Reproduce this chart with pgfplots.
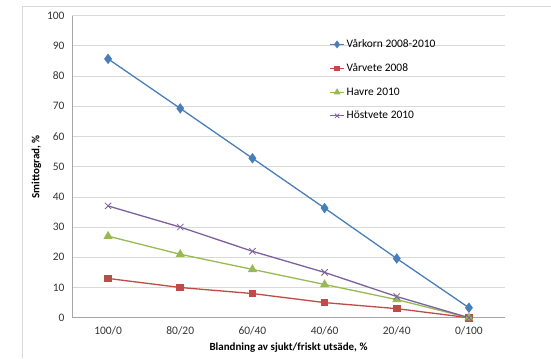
\documentclass[border=0pt]{standalone}
\usepackage{fontspec}
\setmainfont{Carlito}
\usepackage{pgfplots}
\pgfplotsset{compat=1.18}

\definecolor{cblue}{HTML}{4A7EBB}
\definecolor{cred}{HTML}{BE4B48}
\definecolor{cgreen}{HTML}{98B954}
\definecolor{cpurple}{HTML}{7D60A0}
\definecolor{gridgray}{HTML}{D9D9D9}
\definecolor{axisgray}{HTML}{A6A6A6}

\begin{document}
\begin{tikzpicture}[x=1bp,y=1bp]
\path[use as bounding box] (0,0) rectangle (551,358);
\draw[gridgray, line width=0.8bp] (22,0) -- (22,352) -- (551,352);
\begin{axis}[
  at={(72bp,40.3bp)}, anchor=south west,
  scale only axis, width=433bp, height=302bp,
  xmin=-0.5, xmax=5.5, ymin=0, ymax=100,
  xtick={0,1,2,3,4,5},
  xticklabels={100/0,80/20,60/40,40/60,20/40,0/100},
  minor xtick={-0.5,0.5,1.5,2.5,3.5,4.5,5.5},
  ytick={0,10,...,100},
  ymajorgrids, major grid style={gridgray, line width=0.8bp},
  axis x line*=bottom, axis y line*=left,
  axis line style={axisgray, line width=0.8bp, -},
  major tick length=0pt,
  ytick style={draw=none},
  xtick style={draw=none},
  minor tick length=4bp,
  minor x tick style={axisgray, line width=0.8bp},
  tick label style={font=\fontsize{11.5}{13}\selectfont, text=black!80},
  /pgf/number format/assume math mode=true,
  yticklabel style={xshift=-4bp},
  xticklabel style={yshift=-5bp},
  xlabel={\textbf{Blandning av sjukt/friskt utsäde, \%}},
  ylabel={\textbf{Smittograd, \%}},
  label style={font=\fontsize{11}{13}\selectfont},
  xlabel style={yshift=-1bp},
  ylabel style={yshift=-1bp},
  legend style={at={(rel axis cs:0.594,0.928)}, anchor=north west,
    draw=none, fill=none, font=\fontsize{11.5}{13}\selectfont,
    row sep=10.5bp, inner sep=0pt,
    /tikz/every even column/.append style={column sep=1bp}},
  legend cell align=left,
  legend image code/.code={
    \draw[mark repeat=2,mark phase=2,every mark/.append style={scale=0.7}]
      plot coordinates {(0bp,0bp) (7bp,0bp) (14bp,0bp)};},
  every axis plot/.append style={line width=1.3bp},
  clip=false,
]
\addplot[cblue, mark=diamond*, mark size=4.2bp, mark options={fill=cblue}]
  coordinates {(0,85.7) (1,69.3) (2,52.8) (3,36.3) (4,19.6) (5,3.3)};
\addlegendentry{Vårkorn 2008-2010}
\addplot[cred, mark=square*, mark size=3.2bp, mark options={fill=cred}]
  coordinates {(0,13) (1,10) (2,8) (3,5) (4,3) (5,0)};
\addlegendentry{Vårvete 2008}
\addplot[cgreen, mark=triangle*, mark size=4bp, mark options={fill=cgreen}]
  coordinates {(0,27) (1,21) (2,16) (3,11) (4,6) (5,0)};
\addlegendentry{Havre 2010}
\addplot[cpurple, mark=x, mark size=4.5bp, mark options={line width=0.8bp}]
  coordinates {(0,37) (1,30) (2,22) (3,15) (4,7) (5,0)};
\addlegendentry{Höstvete 2010}
\end{axis}
\end{tikzpicture}
\end{document}
